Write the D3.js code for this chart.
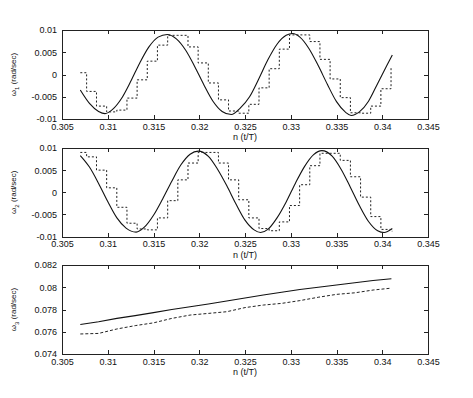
<!DOCTYPE html>
<meta charset="utf-8">
<style>
body {
  margin: 0;
  background-color: #fff;
}
.axis text {
  font: 9px "Liberation Sans", Arial, sans-serif;
  fill: #111;
}
.axis path,
.axis line {
  fill: none;
  stroke: #222;
  stroke-width: 1px;
  shape-rendering: crispEdges;
}
.solid {
  fill: none;
  stroke: #111;
  stroke-width: 1.1px;
}
.dotted {
  fill: none;
  stroke: #222;
  stroke-width: 1px;
  stroke-dasharray: 2,2;
}
.dashed {
  fill: none;
  stroke: #222;
  stroke-width: 1px;
  stroke-dasharray: 3,2;
}
.label {
  font: 9px "Liberation Sans", Arial, sans-serif;
  fill: #111;
}
</style>
<body>
<svg width="473" height="398"></svg>
<script src="https://d3js.org/d3.v7.min.js"></script>
<script>
// x ticks shared by the three panels
var xTicks = [0.305, 0.31, 0.315, 0.32, 0.325, 0.33, 0.335, 0.34, 0.345];
var xTickLabels = ["0.305", "0.31", "0.315", "0.32", "0.325", "0.33", "0.335", "0.34", "0.345"];
var wTicks = [-0.01, -0.005, 0, 0.005, 0.01];
var wTickLabels = ["-0.01", "-0.005", "0", "0.005", "0.01"];
var w3Ticks = [0.074, 0.076, 0.078, 0.08, 0.082];
var w3TickLabels = ["0.074", "0.076", "0.078", "0.08", "0.082"];

// omega 1, continuous response
var w1N = [0.3070, 0.3080, 0.3090, 0.3097, 0.3105, 0.3115, 0.3125, 0.3135, 0.3145, 0.3155,
           0.3165, 0.3175, 0.3185, 0.3195, 0.3205, 0.3215, 0.3225, 0.3235, 0.3245, 0.3255,
           0.3265, 0.3275, 0.3285, 0.3295, 0.3302, 0.3310, 0.3320, 0.3330, 0.3340, 0.3350,
           0.3360, 0.3366, 0.3375, 0.3385, 0.3395, 0.3405, 0.3411];
var w1Solid = [-0.0035, -0.0065, -0.0083, -0.0088, -0.0079, -0.0054, -0.0016, 0.0026, 0.0062, 0.0084,
               0.0090, 0.0080, 0.0055, 0.0018, -0.0023, -0.0060, -0.0083, -0.0090, -0.0075, -0.0050,
               -0.0010, 0.0033, 0.0068, 0.0088, 0.0092, 0.0084, 0.0058, 0.0020, -0.0022, -0.0061,
               -0.0085, -0.0092, -0.0084, -0.0060, -0.0020, 0.0020, 0.0044];

// omega 2, continuous response
var w2N = [0.3070, 0.3080, 0.3090, 0.3100, 0.3110, 0.3120, 0.3131, 0.3140, 0.3150, 0.3160,
           0.3170, 0.3180, 0.3190, 0.3199, 0.3210, 0.3220, 0.3230, 0.3240, 0.3250, 0.3260,
           0.3267, 0.3275, 0.3285, 0.3295, 0.3305, 0.3315, 0.3325, 0.3334, 0.3345, 0.3355,
           0.3365, 0.3375, 0.3385, 0.3395, 0.3402, 0.3411];
var w2Solid = [0.0083, 0.0057, 0.0020, -0.0021, -0.0058, -0.0081, -0.0090, -0.0079, -0.0052, -0.0015,
               0.0025, 0.0062, 0.0086, 0.0093, 0.0081, 0.0052, 0.0015, -0.0026, -0.0063, -0.0085,
               -0.0091, -0.0084, -0.0058, -0.0022, 0.0020, 0.0058, 0.0085, 0.0094, 0.0082, 0.0052,
               0.0012, -0.0030, -0.0066, -0.0087, -0.0091, -0.0082];

// sampled (held) values, same sample instants for omega 1 and omega 2
var stepN = [0.30700, 0.30769, 0.30877, 0.30988, 0.31099, 0.31210, 0.31321, 0.31432, 0.31543, 0.31655,
             0.31766, 0.31877, 0.31988, 0.32099, 0.32210, 0.32320, 0.32431, 0.32542, 0.32653, 0.32764,
             0.32875, 0.32986, 0.33097, 0.33208, 0.33319, 0.33430, 0.33541, 0.33652, 0.33763, 0.33874,
             0.33985, 0.34096, 0.34110];
var w1Step = [0.0004, -0.0038, -0.0071, -0.0084, -0.0080, -0.0053, -0.0012, 0.0030, 0.0066, 0.0088,
              0.0088, 0.0062, 0.0026, -0.0019, -0.0057, -0.0082, -0.0087, -0.0067, -0.0030, 0.0013,
              0.0057, 0.0089, 0.0089, 0.0074, 0.0034, -0.0010, -0.0052, -0.0086, -0.0087, -0.0071,
              -0.0032, 0.0015, 0.0015];
var w2Step = [0.0090, 0.0080, 0.0050, 0.0010, -0.0034, -0.0070, -0.0083, -0.0085, -0.0058, -0.0019,
              0.0028, 0.0066, 0.0090, 0.0090, 0.0066, 0.0028, -0.0017, -0.0058, -0.0082, -0.0087,
              -0.0067, -0.0030, 0.0017, 0.0060, 0.0088, 0.0088, 0.0072, 0.0035, -0.0011, -0.0055,
              -0.0084, -0.0088, -0.0088];

// omega 3
var w3N = [0.307, 0.309, 0.311, 0.313, 0.315, 0.317, 0.319, 0.321, 0.323,
           0.325, 0.327, 0.329, 0.331, 0.333, 0.335, 0.337, 0.339, 0.341];
var w3Solid = [0.07665, 0.07690, 0.07720, 0.07745, 0.07772, 0.07800, 0.07825, 0.07850, 0.07877,
               0.07903, 0.07930, 0.07955, 0.07980, 0.08000, 0.08020, 0.08040, 0.08060, 0.08076];
var w3Dotted = [0.07580, 0.07585, 0.07625, 0.07655, 0.07680, 0.07720, 0.07750, 0.07765, 0.07780,
                0.07817, 0.07840, 0.07855, 0.07880, 0.07910, 0.07936, 0.07950, 0.07975, 0.07992];

var svg = d3.select("svg");
var left = 62, right = 428;

var x = d3.scaleLinear().domain([0.305, 0.345]).range([left, right]);

function zip(ns, vs) {
  return ns.map(function(n, i) { return {n: n, v: vs[i]}; });
}

function panel(top, bottom, yDomain, yTicks, yTickLabels, sub, series) {
  var y = d3.scaleLinear().domain(yDomain).range([bottom, top]);
  var g = svg.append("g");

  g.append("g")
      .attr("class", "axis")
      .attr("transform", "translate(0," + bottom + ")")
      .call(d3.axisBottom(x).tickValues(xTicks).tickSize(-4).tickSizeOuter(0).tickPadding(4.5)
        .tickFormat(function(d, i) { return xTickLabels[i]; }));
  g.append("g")
      .attr("class", "axis")
      .attr("transform", "translate(0," + top + ")")
      .call(d3.axisTop(x).tickValues(xTicks).tickSize(-4).tickSizeOuter(0).tickFormat(""));
  g.append("g")
      .attr("class", "axis")
      .attr("transform", "translate(" + left + ",0)")
      .call(d3.axisLeft(y).tickValues(yTicks).tickSize(-4).tickSizeOuter(0).tickPadding(5)
        .tickFormat(function(d, i) { return yTickLabels[i]; }));
  g.append("g")
      .attr("class", "axis")
      .attr("transform", "translate(" + right + ",0)")
      .call(d3.axisRight(y).tickValues(yTicks).tickSize(-4).tickSizeOuter(0).tickFormat(""));
  g.selectAll(".domain").attr("stroke", "#222");

  series.forEach(function(s) {
    var line = d3.line()
        .curve(s.curve)
        .x(function(d) { return x(d.n); })
        .y(function(d) { return y(d.v); });
    g.append("path")
        .datum(zip(s.n, s.v))
        .attr("class", s.cls)
        .attr("d", line);
  });

  g.append("text")
      .attr("class", "label")
      .attr("x", (left + right) / 2)
      .attr("y", bottom + 21)
      .attr("text-anchor", "middle")
      .text("n (t/T)");

  var yl = g.append("text")
      .attr("class", "label")
      .attr("transform", "translate(16," + ((top + bottom) / 2) + ") rotate(-90)")
      .attr("text-anchor", "middle")
      .style("font-size", "8px");
  yl.append("tspan").text("\u03c9");
  yl.append("tspan").attr("dy", 2.5).style("font-size", "6px").text(sub);
  yl.append("tspan").attr("dy", -2.5).text(" (rad/sec)");
}

panel(30, 119, [-0.01, 0.01], wTicks, wTickLabels, "1", [
  {n: w1N, v: w1Solid, cls: "solid", curve: d3.curveMonotoneX},
  {n: stepN, v: w1Step, cls: "dotted", curve: d3.curveStepAfter}
]);
panel(148, 236.5, [-0.01, 0.01], wTicks, wTickLabels, "2", [
  {n: w2N, v: w2Solid, cls: "solid", curve: d3.curveMonotoneX},
  {n: stepN, v: w2Step, cls: "dotted", curve: d3.curveStepAfter}
]);
panel(265, 354, [0.074, 0.082], w3Ticks, w3TickLabels, "3", [
  {n: w3N, v: w3Solid, cls: "solid", curve: d3.curveLinear},
  {n: w3N, v: w3Dotted, cls: "dashed", curve: d3.curveLinear}
]);
</script>
